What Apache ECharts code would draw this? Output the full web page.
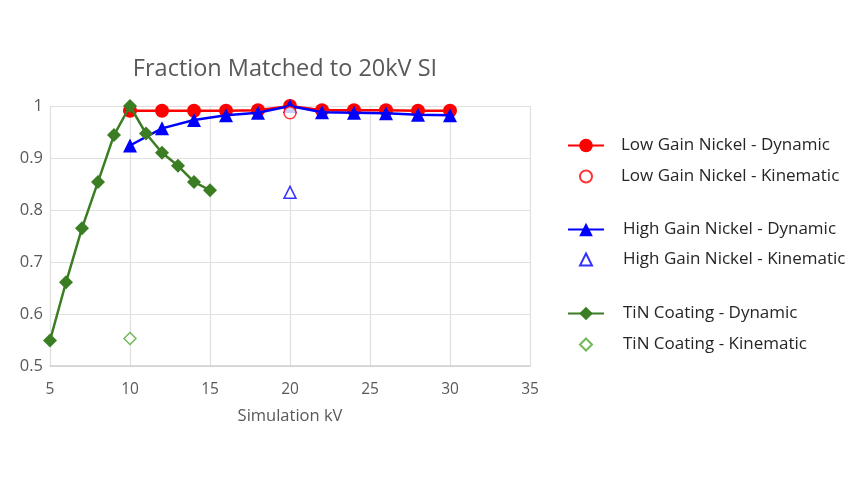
<!DOCTYPE html>
<html>
<head>
<meta charset="utf-8">
<script src="https://cdn.jsdelivr.net/npm/echarts@6/dist/echarts.min.js"></script>
<style>
  html, body { margin: 0; padding: 0; background: #fff; }
  #chart { width: 865px; height: 486px; }
</style>
</head>
<body>
<div id="chart"></div>
<script>
// Simulation kV values
const kvNickel = [10, 12, 14, 16, 18, 20, 22, 24, 26, 28, 30]
const kvTin = [5, 6, 7, 8, 9, 10, 11, 12, 13, 14, 15]

// Fraction matched
const lowGainDynamic = [0.991, 0.991, 0.991, 0.991, 0.992, 1.0, 0.992, 0.992, 0.992, 0.991, 0.991]
const highGainDynamic = [0.924, 0.957, 0.973, 0.982, 0.987, 1.0, 0.988, 0.987, 0.986, 0.983, 0.982]
const tinDynamic = [0.549, 0.661, 0.765, 0.854, 0.944, 1.0, 0.947, 0.910, 0.885, 0.854, 0.838]

const lowGainKinematic = [[20, 0.987]]
const highGainKinematic = [[20, 0.834]]
const tinKinematic = [[10, 0.553]]

const zip = (xs, ys) => xs.map((x, i) => [x, ys[i]])

const RED = '#ff0000'
const BLUE = '#0000ff'
const GREEN = '#3b7d23'
const GREEN_LIGHT = '#4ea72e'
const FONT = 'Open Sans, Lato, sans-serif'
const GRAY = '#595959'

const chart = echarts.init(document.getElementById('chart'))

// 图例：每项单独一个，便于控制图标大小和位置
const legendText = { fontFamily: FONT, fontSize: 17, color: '#262626' }
const lineLegend = (name, top, pad) => ({
  left: 562, top, itemWidth: 36, itemHeight: 17,
  textStyle: Object.assign({ padding: [0, 0, 0, pad] }, legendText),
  data: [name]
})
const dotLegend = (name, top, pad) => ({
  left: 574, top, itemWidth: 12, itemHeight: 12,
  textStyle: Object.assign({ padding: [0, 0, 0, pad] }, legendText),
  data: [name]
})

const option = {
  animation: false,
  title: {
    text: 'Fraction Matched to 20kV SI',
    left: 280,
    textAlign: 'center',
    top: 52,
    textStyle: { fontFamily: FONT, fontSize: 23.5, fontWeight: 'normal', color: GRAY }
  },
  legend: [
    lineLegend('Low Gain Nickel - Dynamic', 132, 12),
    dotLegend('Low Gain Nickel - Kinematic', 163, 24),
    lineLegend('High Gain Nickel - Dynamic', 216, 14),
    dotLegend('High Gain Nickel - Kinematic', 246, 26),
    lineLegend('TiN Coating - Dynamic', 300, 14),
    dotLegend('TiN Coating - Kinematic', 331, 26)
  ],
  grid: { left: 50, right: 335, top: 106, bottom: 120 },
  xAxis: {
    type: 'value',
    min: 5,
    max: 35,
    interval: 5,
    name: 'Simulation kV',
    nameLocation: 'middle',
    nameGap: 42,
    nameTextStyle: { fontFamily: FONT, fontSize: 16.5, color: GRAY },
    axisLine: { lineStyle: { color: '#d0d0d0', width: 1.5 } },
    axisTick: { show: false },
    axisLabel: { fontFamily: FONT, fontSize: 15.5, color: GRAY, margin: 16 },
    splitLine: { show: true, lineStyle: { color: '#e0e0e0', width: 1.2 } }
  },
  yAxis: {
    type: 'value',
    min: 0.5,
    max: 1,
    interval: 0.1,
    axisLine: { show: false },
    axisTick: { show: false },
    axisLabel: { fontFamily: FONT, fontSize: 16.5, color: GRAY, margin: 7 },
    splitLine: { lineStyle: { color: '#e0e0e0', width: 1.2 } }
  },
  series: [
    {
      name: 'TiN Coating - Dynamic',
      type: 'line',
      data: zip(kvTin, tinDynamic),
      symbol: 'diamond',
      symbolSize: 14,
      itemStyle: { color: GREEN },
      lineStyle: { color: GREEN, width: 2.5 }
    },
    {
      name: 'TiN Coating - Kinematic',
      type: 'scatter',
      data: tinKinematic,
      symbol: 'diamond',
      symbolSize: 12,
      itemStyle: { color: '#fff', borderColor: GREEN_LIGHT, borderWidth: 1.5 }
    },
    {
      name: 'High Gain Nickel - Dynamic',
      type: 'line',
      data: zip(kvNickel, highGainDynamic),
      symbol: 'triangle',
      symbolSize: 14,
      itemStyle: { color: BLUE },
      lineStyle: { color: BLUE, width: 2.5 }
    },
    {
      name: 'High Gain Nickel - Kinematic',
      type: 'scatter',
      data: highGainKinematic,
      symbol: 'triangle',
      symbolSize: 12,
      itemStyle: { color: '#fff', borderColor: BLUE, borderWidth: 1.5 }
    },
    {
      name: 'Low Gain Nickel - Dynamic',
      type: 'line',
      data: zip(kvNickel, lowGainDynamic),
      symbol: 'circle',
      symbolSize: 14,
      z: 1,
      itemStyle: { color: RED },
      lineStyle: { color: RED, width: 2.5 }
    },
    {
      name: 'Low Gain Nickel - Kinematic',
      type: 'scatter',
      data: lowGainKinematic,
      symbol: 'circle',
      symbolSize: 12,
      z: 3,
      itemStyle: { color: '#fff', borderColor: RED, borderWidth: 1.5 }
    }
  ]
}

chart.setOption(option)
</script>
</body>
</html>
